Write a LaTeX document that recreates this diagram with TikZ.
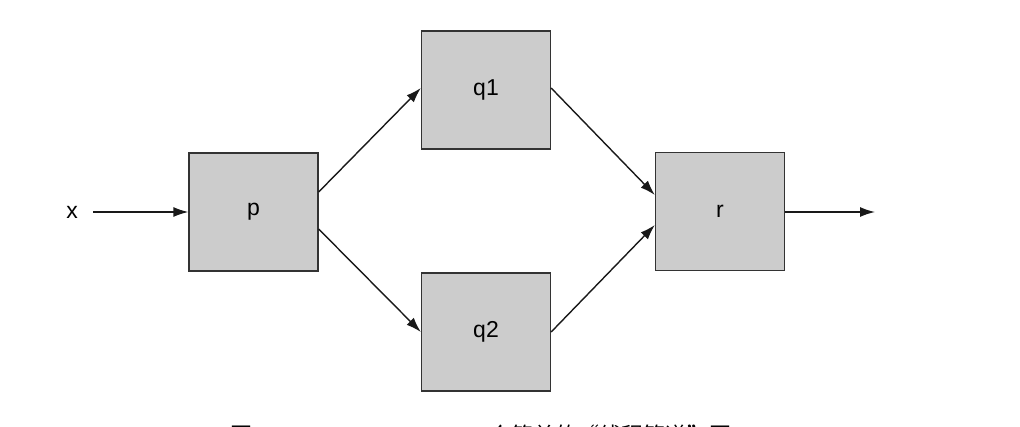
\documentclass[tikz,border=0pt]{standalone}
\usepackage{fontspec}
\setmainfont{Liberation Sans}
\newfontfamily\cjk{Noto Sans CJK SC}
\usetikzlibrary{arrows.meta}
\begin{document}
\begin{tikzpicture}[x=1pt,y=-1pt,
  blockbox/.style={draw=black!80,fill=black!20,line width=1.3pt,minimum width=129pt,minimum height=118pt,inner sep=0pt,font=\fontsize{23}{25}\selectfont},
  conn/.style={line width=1.4pt,draw=black!90,-{Latex[length=15pt,width=10pt]}},
  lbl/.style={font=\fontsize{23}{25}\selectfont,inner sep=0pt},
  captxt/.style={font=\cjk\fontsize{22}{24}\selectfont,inner sep=0pt,anchor=base west}]
\useasboundingbox (0,0) rectangle (1020,426);
\node[blockbox] (p) at (253.5,212) {p};
\node[blockbox] (q1) at (486,90) {q1};
\node[blockbox] (q2) at (486,332) {q2};
\node[blockbox] (r) at (720,211.5) {r};
\node[lbl] (x) at (72,212) {x};
\coordinate (xs) at (93,212);
\coordinate (out) at (875,212);
\draw[conn] (xs) -- (p.west);
\draw[conn] ([yshift=20pt]p.east) -- ([yshift=2pt]q1.west);
\draw[conn] ([yshift=-17pt]p.east) -- (q2.west);
\draw[conn] ([yshift=2pt]q1.east) -- ([yshift=16.5pt]r.west);
\draw[conn] (q2.east) -- ([yshift=-13.5pt]r.west);
\draw[conn] (r.east |- out) -- (out);
\node[captxt] (cap1) at (230,443) {图 4-2};
\node[captxt] (cap2) at (467,443) {一个简单的“线程管道”图};
\end{tikzpicture}
\end{document}
